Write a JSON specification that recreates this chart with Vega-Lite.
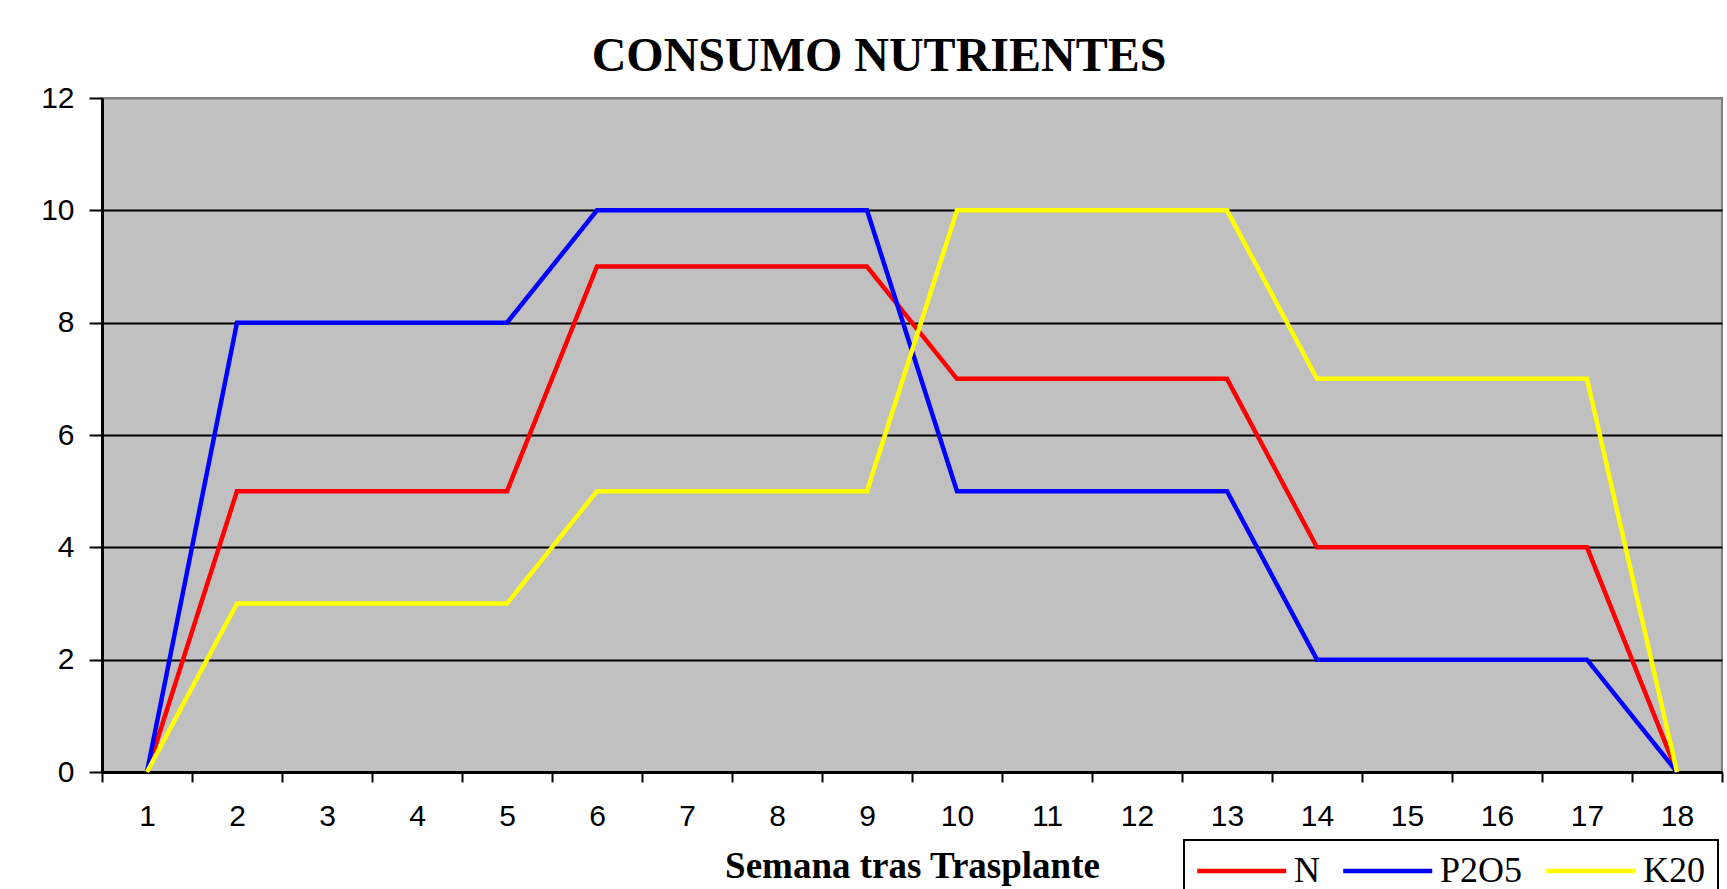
{
  "$schema": "https://vega.github.io/schema/vega-lite/v6.json",
  "autosize": {"type": "none"},
  "width": 1620,
  "height": 674,
  "padding": {"left": 102, "top": 98, "right": 5, "bottom": 117},
  "background": "white",
  "title": {
    "text": "CONSUMO NUTRIENTES",
    "font": "Liberation Serif",
    "fontWeight": "bold",
    "fontSize": 48,
    "color": "black",
    "anchor": "middle",
    "dx": -33,
    "baseline": "alphabetic",
    "offset": -36
  },
  "data": {
    "values": [
      {"week": 1, "nutrient": "N", "value": 0},
      {"week": 2, "nutrient": "N", "value": 5},
      {"week": 3, "nutrient": "N", "value": 5},
      {"week": 4, "nutrient": "N", "value": 5},
      {"week": 5, "nutrient": "N", "value": 5},
      {"week": 6, "nutrient": "N", "value": 9},
      {"week": 7, "nutrient": "N", "value": 9},
      {"week": 8, "nutrient": "N", "value": 9},
      {"week": 9, "nutrient": "N", "value": 9},
      {"week": 10, "nutrient": "N", "value": 7},
      {"week": 11, "nutrient": "N", "value": 7},
      {"week": 12, "nutrient": "N", "value": 7},
      {"week": 13, "nutrient": "N", "value": 7},
      {"week": 14, "nutrient": "N", "value": 4},
      {"week": 15, "nutrient": "N", "value": 4},
      {"week": 16, "nutrient": "N", "value": 4},
      {"week": 17, "nutrient": "N", "value": 4},
      {"week": 18, "nutrient": "N", "value": 0},
      {"week": 1, "nutrient": "P2O5", "value": 0},
      {"week": 2, "nutrient": "P2O5", "value": 8},
      {"week": 3, "nutrient": "P2O5", "value": 8},
      {"week": 4, "nutrient": "P2O5", "value": 8},
      {"week": 5, "nutrient": "P2O5", "value": 8},
      {"week": 6, "nutrient": "P2O5", "value": 10},
      {"week": 7, "nutrient": "P2O5", "value": 10},
      {"week": 8, "nutrient": "P2O5", "value": 10},
      {"week": 9, "nutrient": "P2O5", "value": 10},
      {"week": 10, "nutrient": "P2O5", "value": 5},
      {"week": 11, "nutrient": "P2O5", "value": 5},
      {"week": 12, "nutrient": "P2O5", "value": 5},
      {"week": 13, "nutrient": "P2O5", "value": 5},
      {"week": 14, "nutrient": "P2O5", "value": 2},
      {"week": 15, "nutrient": "P2O5", "value": 2},
      {"week": 16, "nutrient": "P2O5", "value": 2},
      {"week": 17, "nutrient": "P2O5", "value": 2},
      {"week": 18, "nutrient": "P2O5", "value": 0},
      {"week": 1, "nutrient": "K20", "value": 0},
      {"week": 2, "nutrient": "K20", "value": 3},
      {"week": 3, "nutrient": "K20", "value": 3},
      {"week": 4, "nutrient": "K20", "value": 3},
      {"week": 5, "nutrient": "K20", "value": 3},
      {"week": 6, "nutrient": "K20", "value": 5},
      {"week": 7, "nutrient": "K20", "value": 5},
      {"week": 8, "nutrient": "K20", "value": 5},
      {"week": 9, "nutrient": "K20", "value": 5},
      {"week": 10, "nutrient": "K20", "value": 10},
      {"week": 11, "nutrient": "K20", "value": 10},
      {"week": 12, "nutrient": "K20", "value": 10},
      {"week": 13, "nutrient": "K20", "value": 10},
      {"week": 14, "nutrient": "K20", "value": 7},
      {"week": 15, "nutrient": "K20", "value": 7},
      {"week": 16, "nutrient": "K20", "value": 7},
      {"week": 17, "nutrient": "K20", "value": 7},
      {"week": 18, "nutrient": "K20", "value": 0}
    ]
  },
  "mark": {"type": "line", "strokeWidth": 4.5, "strokeJoin": "miter"},
  "encoding": {
    "x": {
      "field": "week",
      "type": "ordinal",
      "bandPosition": 0.5,
      "scale": {"type": "band", "paddingInner": 0, "paddingOuter": 0},
      "axis": {
        "title": "Semana tras Trasplante",
        "titleFont": "Liberation Serif",
        "titleFontWeight": "bold",
        "titleFontSize": 37,
        "titleColor": "black",
        "titleBaseline": "alphabetic",
        "titleY": 105,
        "labelAngle": 0,
        "labelFont": "Liberation Sans",
        "labelFontSize": 30,
        "labelColor": "black",
        "labelBaseline": "alphabetic",
        "labelPadding": 43,
        "tickBand": "extent",
        "tickSize": 10,
        "tickWidth": 2,
        "tickColor": "black",
        "domainColor": "black",
        "domainWidth": 3,
        "grid": false
      }
    },
    "y": {
      "field": "value",
      "type": "quantitative",
      "scale": {"domain": [0, 12], "nice": false},
      "axis": {
        "title": null,
        "values": [0, 2, 4, 6, 8, 10, 12],
        "labelFont": "Liberation Sans",
        "labelFontSize": 30,
        "labelColor": "black",
        "labelPadding": 15,
        "tickSize": 13,
        "tickWidth": 2,
        "tickColor": "black",
        "domainColor": "black",
        "domainWidth": 3,
        "grid": true,
        "gridColor": {"condition": {"test": "datum.value === 12", "value": "#808080"}, "value": "black"},
        "gridWidth": 2,
        "gridOpacity": 1
      }
    },
    "color": {
      "field": "nutrient",
      "type": "nominal",
      "sort": ["N", "P2O5", "K20"],
      "scale": {"domain": ["N", "P2O5", "K20"], "range": ["#FF0000", "#0000FF", "#FFFF00"]},
      "legend": {
        "orient": "none",
        "legendX": 1082,
        "legendY": 742,
        "direction": "horizontal",
        "title": null,
        "symbolType": "M-2,0H8",
        "symbolSize": 317,
        "symbolStrokeWidth": 4.5,
        "labelFont": "Liberation Serif",
        "labelFontSize": 36,
        "labelColor": "black",
        "labelOffset": 61,
        "columnPadding": 14,
        "padding": 13,
        "strokeColor": "black",
        "fillColor": "white",
        "encode": {"legend": {"update": {"strokeWidth": {"value": 2}}}}
      }
    }
  },
  "config": {
    "view": {"fill": "#C0C0C0", "stroke": "#808080", "strokeWidth": 2}
  }
}
